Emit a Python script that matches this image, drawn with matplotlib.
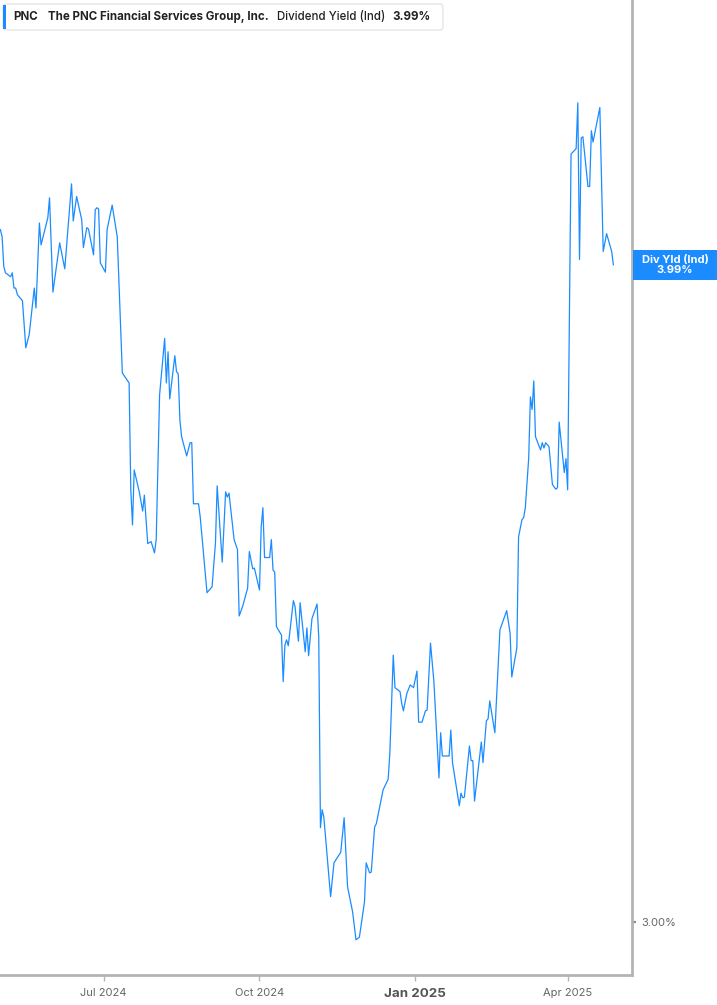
import pandas as pd
import matplotlib.pyplot as plt
from matplotlib.patches import FancyBboxPatch, Rectangle
import matplotlib.transforms as mtransforms

plt.rcParams['font.family'] = ['Inter', 'DejaVu Sans']

# Data dividend yield PNC
tanggal = [
    '2024-05-01', '2024-05-02', '2024-05-03', '2024-05-04', '2024-05-07', '2024-05-08',
    '2024-05-09', '2024-05-10', '2024-05-11', '2024-05-14', '2024-05-16', '2024-05-18',
    '2024-05-21', '2024-05-22', '2024-05-24', '2024-05-25', '2024-05-29', '2024-05-30',
    '2024-06-01', '2024-06-05', '2024-06-08', '2024-06-12', '2024-06-13', '2024-06-15',
    '2024-06-18', '2024-06-19', '2024-06-21', '2024-06-22', '2024-06-25', '2024-06-26',
    '2024-06-27', '2024-06-28', '2024-06-29', '2024-07-02', '2024-07-03', '2024-07-06',
    '2024-07-09', '2024-07-12', '2024-07-16', '2024-07-17', '2024-07-18', '2024-07-19',
    '2024-07-22', '2024-07-24', '2024-07-25', '2024-07-27', '2024-07-29', '2024-07-31',
    '2024-08-01', '2024-08-03', '2024-08-06', '2024-08-07', '2024-08-08', '2024-08-09',
    '2024-08-12', '2024-08-13', '2024-08-14', '2024-08-15', '2024-08-16', '2024-08-19',
    '2024-08-21', '2024-08-22', '2024-08-23', '2024-08-26', '2024-08-27', '2024-08-31',
    '2024-09-03', '2024-09-05', '2024-09-06', '2024-09-09', '2024-09-11', '2024-09-12',
    '2024-09-13', '2024-09-16', '2024-09-18', '2024-09-19', '2024-09-21', '2024-09-24',
    '2024-09-25', '2024-09-27', '2024-09-28', '2024-10-01', '2024-10-02', '2024-10-03',
    '2024-10-04', '2024-10-07', '2024-10-08', '2024-10-09', '2024-10-10', '2024-10-11',
    '2024-10-14', '2024-10-15', '2024-10-16', '2024-10-17', '2024-10-18', '2024-10-21',
    '2024-10-22', '2024-10-24', '2024-10-25', '2024-10-28', '2024-10-29', '2024-10-30',
    '2024-11-01', '2024-11-04', '2024-11-05', '2024-11-06', '2024-11-07', '2024-11-08',
    '2024-11-12', '2024-11-14', '2024-11-18', '2024-11-20', '2024-11-22', '2024-11-25',
    '2024-11-27', '2024-11-29', '2024-12-02', '2024-12-03', '2024-12-05', '2024-12-06',
    '2024-12-08', '2024-12-09', '2024-12-13', '2024-12-16', '2024-12-17', '2024-12-19',
    '2024-12-20', '2024-12-23', '2024-12-24', '2024-12-25', '2024-12-27', '2024-12-29',
    '2024-12-31', '2025-01-02', '2025-01-03', '2025-01-05', '2025-01-07', '2025-01-08',
    '2025-01-10', '2025-01-12', '2025-01-15', '2025-01-16', '2025-01-17', '2025-01-21',
    '2025-01-22', '2025-01-23', '2025-01-27', '2025-01-28', '2025-01-29', '2025-01-30',
    '2025-02-02', '2025-02-03', '2025-02-04', '2025-02-05', '2025-02-09', '2025-02-10',
    '2025-02-12', '2025-02-13', '2025-02-14', '2025-02-17', '2025-02-20', '2025-02-24',
    '2025-02-26', '2025-02-27', '2025-03-02', '2025-03-03', '2025-03-05', '2025-03-06',
    '2025-03-07', '2025-03-09', '2025-03-10', '2025-03-11', '2025-03-12', '2025-03-13',
    '2025-03-16', '2025-03-17', '2025-03-18', '2025-03-19', '2025-03-21', '2025-03-23',
    '2025-03-25', '2025-03-26', '2025-03-27', '2025-03-30', '2025-03-31', '2025-04-01',
    '2025-04-03', '2025-04-06', '2025-04-07', '2025-04-08', '2025-04-09', '2025-04-10',
    '2025-04-13', '2025-04-14', '2025-04-15', '2025-04-16', '2025-04-20', '2025-04-22',
    '2025-04-24', '2025-04-27', '2025-04-28',
]
yield_pct = [
    4.043, 4.032, 3.987, 3.978, 3.972, 3.978, 3.955, 3.955, 3.945, 3.936, 3.865, 3.885,
    3.955, 3.925, 4.053, 4.020, 4.061, 4.091, 3.949, 4.023, 3.984, 4.112, 4.056, 4.093,
    4.058, 4.016, 4.046, 4.044, 4.005, 4.073, 4.076, 4.074, 3.993, 3.979, 4.043, 4.080,
    4.032, 3.827, 3.812, 3.651, 3.598, 3.681, 3.648, 3.619, 3.643, 3.570, 3.573, 3.556,
    3.576, 3.794, 3.879, 3.812, 3.859, 3.788, 3.853, 3.829, 3.826, 3.756, 3.731, 3.702,
    3.722, 3.722, 3.630, 3.630, 3.610, 3.496, 3.505, 3.571, 3.657, 3.542, 3.648, 3.640,
    3.646, 3.576, 3.561, 3.461, 3.475, 3.503, 3.558, 3.532, 3.533, 3.500, 3.595, 3.624,
    3.549, 3.549, 3.576, 3.530, 3.527, 3.445, 3.432, 3.362, 3.417, 3.425, 3.416, 3.484,
    3.475, 3.423, 3.481, 3.407, 3.443, 3.401, 3.457, 3.479, 3.429, 3.142, 3.169, 3.158,
    3.038, 3.089, 3.105, 3.157, 3.053, 3.015, 2.973, 2.977, 3.030, 3.089, 3.074, 3.075,
    3.143, 3.148, 3.199, 3.215, 3.255, 3.402, 3.353, 3.347, 3.329, 3.318, 3.344, 3.357,
    3.353, 3.378, 3.301, 3.301, 3.318, 3.319, 3.420, 3.362, 3.217, 3.285, 3.250, 3.250,
    3.289, 3.240, 3.175, 3.194, 3.187, 3.188, 3.265, 3.243, 3.243, 3.182, 3.271, 3.240,
    3.303, 3.306, 3.333, 3.285, 3.440, 3.469, 3.435, 3.369, 3.413, 3.580, 3.606, 3.609,
    3.624, 3.699, 3.791, 3.772, 3.815, 3.731, 3.711, 3.722, 3.714, 3.722, 3.716, 3.659,
    3.652, 3.654, 3.753, 3.677, 3.698, 3.651, 4.157, 4.165, 4.234, 3.998, 4.181, 4.183,
    4.108, 4.108, 4.192, 4.175, 4.227, 4.010, 4.037, 4.010, 3.990,
]
label_tick_x = ['2024-07-01', '2024-10-01', '2025-01-01', '2025-04-01']
teks_tick_x = ['Jul 2024', 'Oct 2024', 'Jan 2025', 'Apr 2025']
tick_y = [3.0]

data = pd.DataFrame({'tanggal': pd.to_datetime(tanggal), 'yield': yield_pct})
nilai_akhir = data['yield'].iloc[-1]

biru = '#1a8cff'
abu = '#b4b4b4'

fig = plt.figure(figsize=(7.17, 10.05), dpi=100)
ax = fig.add_axes([0.0, 30 / 1005, 632 / 717, 975 / 1005])

ax.plot(data['tanggal'], data['yield'], color=biru, linewidth=0.9, zorder=3)

ax.set_xlim(pd.Timestamp('2024-04-30 18:00'), pd.Timestamp('2025-05-09'))
ax.set_ylim(2.92, 4.389)

# sumbu
for s in ['top', 'left']:
    ax.spines[s].set_visible(False)
for s in ['bottom', 'right']:
    ax.spines[s].set_color(abu)
    ax.spines[s].set_linewidth(2)

ax.set_xticks(pd.to_datetime(label_tick_x))
ax.set_xticklabels(teks_tick_x)
ax.tick_params(axis='x', length=4, width=1, color=abu, labelcolor='#666666',
               labelsize=8, pad=5)
lbl = ax.get_xticklabels()
lbl[2].set_fontweight('bold')
lbl[2].set_fontsize(9.6)
lbl[2].set_color('#555555')

ax.yaxis.tick_right()
ax.set_yticks(tick_y)
ax.set_yticklabels([f'{v:.2f}%' for v in tick_y])
ax.tick_params(axis='y', length=3, width=1.5, color='#888888', labelcolor='#666666',
               labelsize=8, pad=4)

# label nilai terakhir di sumbu kanan
tr = mtransforms.blended_transform_factory(ax.transAxes, ax.transData)
tinggi = 30 * (4.389 - 2.92) / 975
ax.add_patch(Rectangle((1.0015, nilai_akhir - tinggi / 2), 85 / 632, tinggi,
                       transform=tr, facecolor=biru, edgecolor='none',
                       clip_on=False, zorder=10))
ax.text(1.0 + 43 / 632, nilai_akhir, f'Div Yld (Ind)\n{nilai_akhir:.2f}%', transform=tr,
        ha='center', va='center', color='white', fontsize=8, fontweight='bold',
        linespacing=1.0, zorder=11, clip_on=False)

# kotak judul
def fx(px):
    return px / 717


def fy(py):
    return 1 - py / 1005


fig.patches.append(FancyBboxPatch((fx(3), fy(30)), fx(440), 26 / 1005,
                                  boxstyle='round,pad=0,rounding_size=0.004',
                                  transform=fig.transFigure, facecolor='white',
                                  edgecolor='#e6e6e6', linewidth=1, zorder=5))
fig.patches.append(Rectangle((fx(3), fy(29)), fx(3), 24 / 1005,
                             transform=fig.transFigure, facecolor=biru,
                             edgecolor='none', zorder=6))
ty = fy(17)
gaya = dict(ha='left', va='center', fontsize=8.3, color='#222222', zorder=8)
fig.text(fx(13), ty, 'PNC', fontweight='bold', **gaya)
fig.text(fx(48), ty, 'The PNC Financial Services Group, Inc.', fontweight='bold', **gaya)
fig.text(fx(277), ty, 'Dividend Yield (Ind)', fontweight='medium', **gaya)
fig.text(fx(392), ty, f'{nilai_akhir:.2f}%', fontweight='bold', **gaya)

fig.savefig('out.png', dpi=100)
